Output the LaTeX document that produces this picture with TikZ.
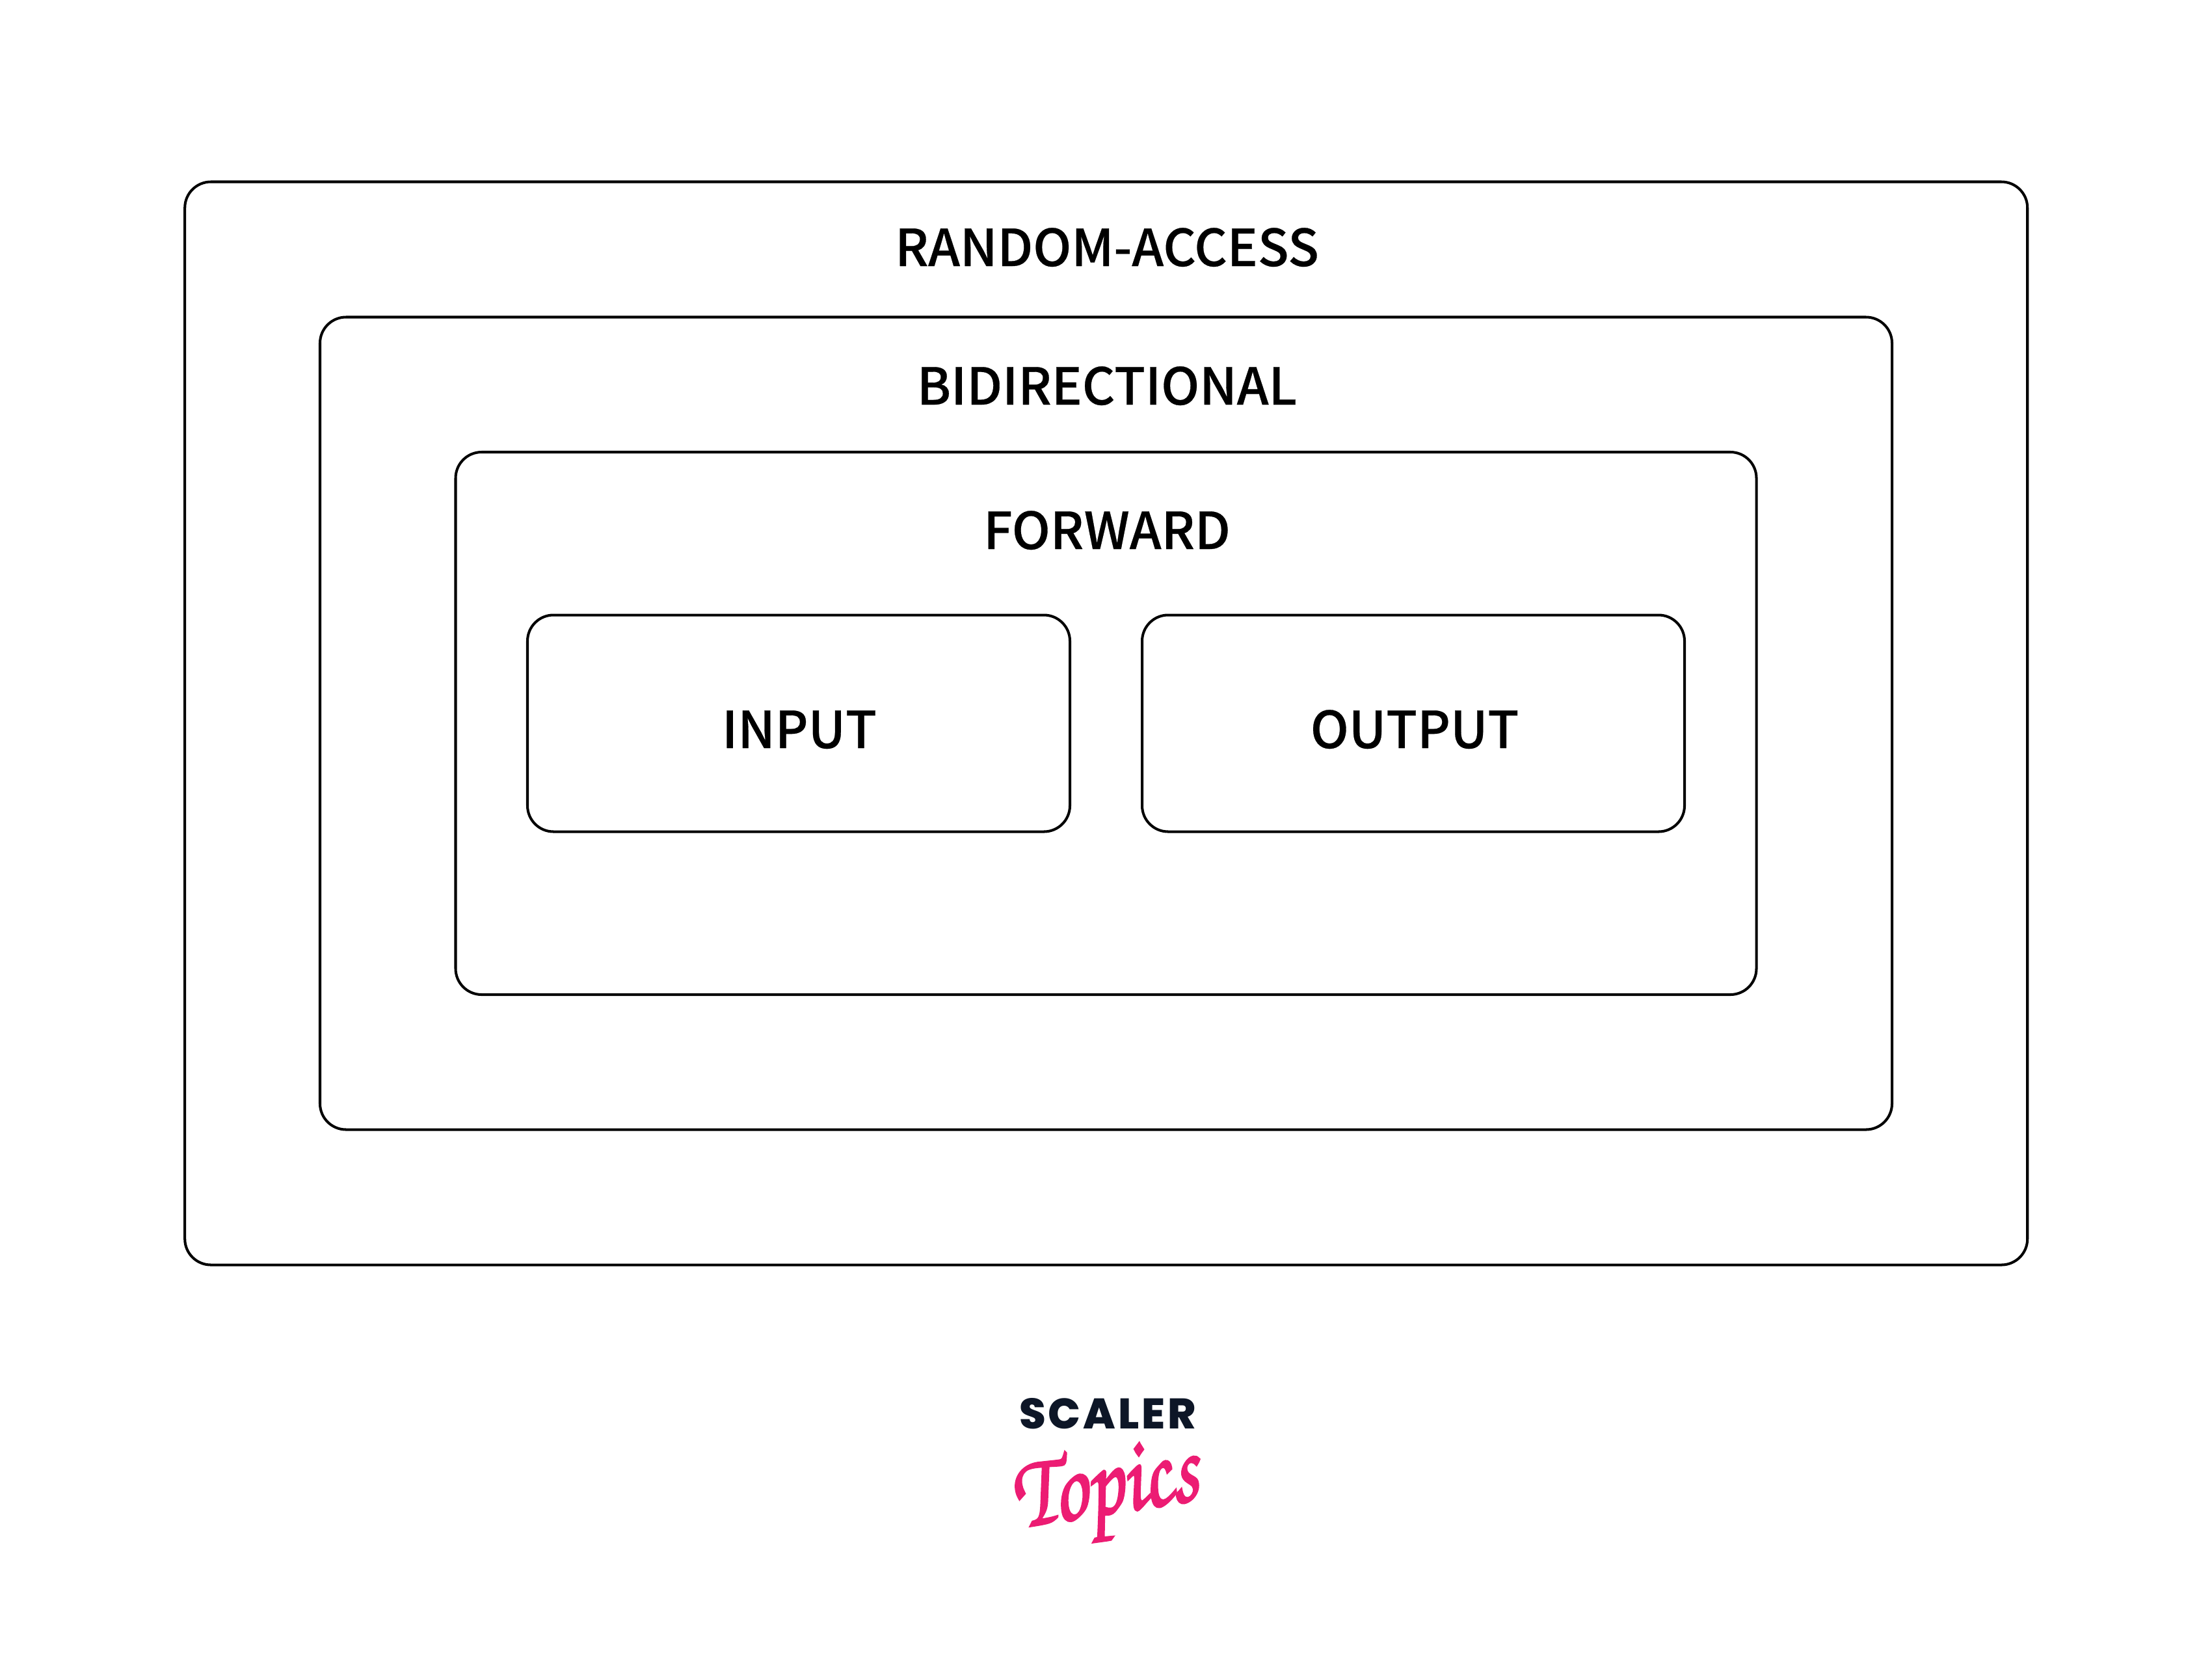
\documentclass[tikz,border=0pt]{standalone}
\usepackage{fontspec}
\newfontfamily\boxfont[FakeBold=0.35]{Noto Sans CJK SC Medium}
\newfontfamily\scalerfont[LetterSpace=6]{Poppins ExtraBold}
\newfontfamily\topicsfont[FakeBold=2]{TeX Gyre Chorus}
\definecolor{scalernavy}{HTML}{0D1627}
\definecolor{topicspink}{HTML}{EC1C73}
\tikzset{
    framebox/.style={draw,line width=1.15pt,rounded corners=0.4cm,inner sep=0,fill=none},
    boxlabel/.style={font=\boxfont\fontsize{22.3}{26}\selectfont,anchor=base,inner sep=0}
}
\begin{document}
\begin{tikzpicture}
            \useasboundingbox (0,0) rectangle (34.01,-25.74);
            \node[framebox,minimum width=28.33cm,minimum height=16.65cm] (randomaccess) at (17.007,-11.12) {};
            \node[framebox,minimum width=24.17cm,minimum height=12.49cm] (bidirectional) at (17.005,-11.12) {};
            \node[framebox,minimum width=20cm,minimum height=8.34cm] (forward) at (17.005,-11.12) {};
            \node[framebox,minimum width=8.34cm,minimum height=3.33cm] (input) at (12.28,-11.12) {};
            \node[framebox,minimum width=8.34cm,minimum height=3.33cm] (output) at (21.73,-11.12) {};

            \node[boxlabel] (randomaccesslabel) at (17.02,-4.09) {RANDOM-ACCESS};
            \node[boxlabel] (bidirectionallabel) at (17.02,-6.22) {BIDIRECTIONAL};
            \node[boxlabel] (forwardlabel) at (17.02,-8.44) {FORWARD};
            \node[boxlabel] (inputlabel) at (12.29,-11.5) {INPUT};
            \node[boxlabel] (outputlabel) at (21.75,-11.5) {OUTPUT};

            \node[font=\scalerfont\fontsize{18.7}{22}\selectfont,text=scalernavy,anchor=base,inner sep=0] (scaler) at (17.03,-21.96) {SCALER};
            \node[font=\topicsfont\fontsize{46}{50}\selectfont,text=topicspink,rotate=9,xscale=0.8,inner sep=0] (topics) at (17.0,-22.95) {Topics};
        \end{tikzpicture}
\end{document}
